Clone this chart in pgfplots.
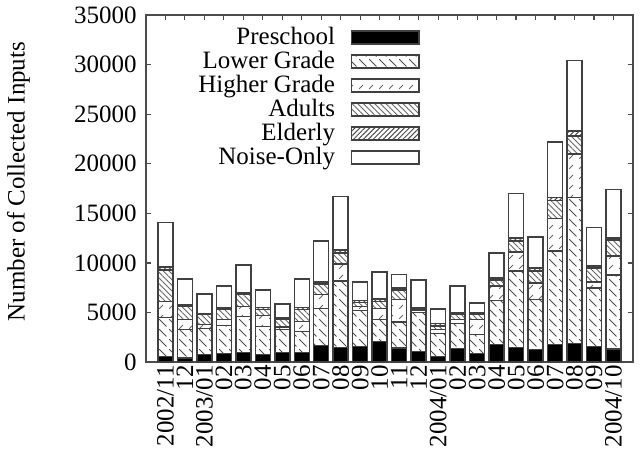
\documentclass[border=0pt]{standalone}
\usepackage{fontspec}
\setmainfont{Liberation Serif}
\usepackage{pgfplots}
\usepackage{pgfplotstable}
\pgfplotsset{compat=1.18}
\usetikzlibrary{patterns,patterns.meta}

\pgfdeclarepatternformonly{hgdash}{\pgfpointorigin}{\pgfpoint{4pt}{4pt}}{\pgfpoint{4pt}{4pt}}{%
  \pgfsetlinewidth{0.4pt}%
  \pgfpathmoveto{\pgfpoint{0pt}{0pt}}\pgfpathlineto{\pgfpoint{1.6pt}{1.6pt}}%
  \pgfusepath{stroke}}
\pgfdeclarepatternformonly{lgdash}{\pgfpointorigin}{\pgfpoint{4pt}{4pt}}{\pgfpoint{4pt}{4pt}}{%
  \pgfsetlinewidth{0.4pt}%
  \pgfpathmoveto{\pgfpoint{0pt}{4pt}}\pgfpathlineto{\pgfpoint{3pt}{1pt}}%
  \pgfusepath{stroke}}

\pgfplotstableread{
x pre lower higher adults elderly noise
1  600 3900 1600 3200 300 4500
2  400 2900 1000 1300 150 2650
3  800 2600  400 1000 100 2000
4  900 2800  600 1000 150 2250
5 1000 3600 1000 1200 200 2800
6  800 2800 1100  600 200 1800
7 1000 2300  250  750 150 1400
8 1000 2100 1000 1200 200 2900
9 1700 3700 1400 1100 200 4100
10 1500 6700 1700 1100 300 5400
11 1600 3600  400  400 200 1900
12 2100 2200 1100  700 250 2750
13 1450 2600 2250 1000 200 1350
14 1100 3900  200  150 100 2850
15  600 2300  400  350 250 1450
16 1400 2500  400  550 150 2700
17  900 1900 1500  500 150 1000
18 1800 4400 1500  600 200 2500
19 1500 7700 1900 1100 300 4500
20 1300 5000 1700 1200 300 3100
21 1800 9400 3300 1800 300 5600
22 1900 14700 4400 1800 500 7100
23 1600 5900  600 1400 200 3900
24 1350 7450 1900 1600 200 4900
}\datatable

\begin{document}
\begin{tikzpicture}
\begin{axis}[
  scale only axis,
  width=195pt, height=139pt,
  ybar stacked,
  bar width=0.77,
  xmin=0, xmax=25, ymin=0, ymax=35000,
  xtick={1,...,24},
  xticklabels={2002/11,12,2003/01,02,03,04,05,06,07,08,09,10,11,12,2004/01,02,03,04,05,06,07,08,09,2004/10},
  xticklabel style={rotate=90, anchor=east, inner sep=1pt},
  ytick={0,5000,...,35000},
  yticklabel style={inner sep=1pt, xshift=-2.5pt},
  scaled y ticks=false,
  /pgf/number format/1000 sep={},
  /pgf/number format/assume math mode=true,
  tick align=inside,
  major tick length=2.2pt,
  tick style={black!70, line width=0.5pt},
  axis line style={black!70, line width=0.6pt},
  ylabel={Number of Collected Inputs},
  every axis y label/.style={at={(axis description cs:0,0.52)}, xshift=-51pt, rotate=90, anchor=center},
  legend plot pos=right,
  legend style={draw=none, fill=none, at={(0.579,0.985)}, anchor=north east,
    cells={anchor=east}, row sep=0pt, column sep=6pt,
    nodes={inner sep=0.4pt, text height=7.1pt, text depth=1.7pt}},
  legend image code/.code={\draw[#1] (0pt,-2.6pt) rectangle (27pt,2.6pt);},
  every axis plot/.append style={draw=black!75, line width=0.6pt},
]
\addplot[fill=black] table[x=x,y=pre]{\datatable};
\addlegendentry{Preschool}
\addplot[pattern=lgdash, pattern color=black!70] table[x=x,y=lower]{\datatable};
\addlegendentry{Lower Grade}
\addplot[pattern=hgdash, pattern color=black!60] table[x=x,y=higher]{\datatable};
\addlegendentry{Higher Grade}
\addplot[pattern={Lines[angle=-45,distance=1.6pt,line width=0.35pt]}, pattern color=black!60] table[x=x,y=adults]{\datatable};
\addlegendentry{Adults}
\addplot[pattern={Lines[angle=45,distance=1.4pt,line width=0.4pt]}, pattern color=black!70] table[x=x,y=elderly]{\datatable};
\addlegendentry{Elderly}
\addplot[fill=white] table[x=x,y=noise]{\datatable};
\addlegendentry{Noise-Only}
\end{axis}
\pgfresetboundingbox
\path[use as bounding box] ([xshift=-58.4pt,yshift=-38.4pt]current axis.south west) rectangle ([xshift=4pt,yshift=6pt]current axis.north east);
\end{tikzpicture}
\end{document}
